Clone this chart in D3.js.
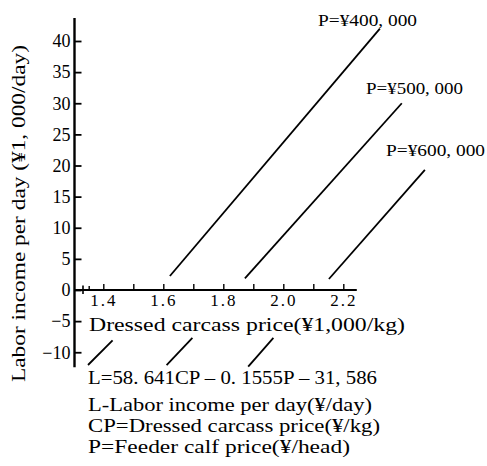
<!DOCTYPE html>
<html>
<head>
<meta charset="utf-8">
<script src="https://cdn.jsdelivr.net/npm/d3@7"></script>
<style>
  html, body { margin: 0; padding: 0; background: #fff; }
  svg { display: block; }
  svg text { font-family: "Liberation Serif", "Times New Roman", serif; fill: #000; font-weight: normal; }
</style>
</head>
<body>
<svg id="chart" width="487" height="466"></svg>
<script>
// ---- data ----
const priceLabels   = ["P=¥400, 000", "P=¥500, 000", "P=¥600, 000"];
// upper segments (above the x axis): start/end in (CP ¥1,000/kg, L ¥1,000/day)
const upperStartCP  = [1.622, 1.872, 2.152];
const upperStartL   = [2.25, 1.88, 1.77];
const upperEndCP    = [2.322, 2.395, 2.472];
const upperEndL     = [42.0, 30.0, 19.3];
// lower segments (below the x-axis title)
const lowerStartCP  = [1.349, 1.611, 1.883];
const lowerStartL   = [-12.05, -12.05, -12.3];
const lowerEndCP    = [1.431, 1.697, 1.967];
const lowerEndL     = [-8.1, -7.7, -7.7];

const xTickValues   = [1.4, 1.5, 1.6, 1.7, 1.8, 1.9, 2.0, 2.1, 2.2];
const xTickLabels   = ["1.4", "", "1.6", "", "1.8", "", "2.0", "", "2.2"];
const xMinorTicks   = [1.353];
const yTickValues   = [40, 35, 30, 25, 20, 15, 10, 5, 0, -5, -10];
const yTickLabels   = ["40", "35", "30", "25", "20", "15", "10", "5", "0", "−5", "−10"];

const xTitle = "Dressed carcass price(¥1,000/kg)";
const yTitle = "Labor income per day (¥1, 000/day)";
const noteLines = [
  "L=58. 641CP \u2013 0. 1555P \u2013 31, 586",
  "L-Labor income per day(¥/day)",
  "CP=Dressed carcass price(¥/kg)",
  "P=Feeder calf price(¥/head)"
];

// ---- drawing ----
const svg = d3.select("#chart");
const x = d3.scaleLinear().domain([1.4, 2.2]).range([103.3, 343.3]);
const y = d3.scaleLinear().domain([0, 40]).range([290, 41]);

// y axis line
svg.append("line")
  .attr("x1", 74.5).attr("x2", 74.5)
  .attr("y1", y(43.7)).attr("y2", y(-12.4))
  .attr("stroke", "#000").attr("stroke-width", 2.4);

// y ticks
const yAxis = d3.axisLeft(y)
  .tickValues(yTickValues)
  .tickFormat((d, i) => yTickLabels[i])
  .tickSizeInner(-7).tickSizeOuter(0).tickPadding(4);
const gy = svg.append("g").attr("transform", "translate(74.5,0)").call(yAxis);
gy.select(".domain").remove();
gy.selectAll(".tick line").attr("stroke", "#000").attr("stroke-width", 1.8);
gy.selectAll(".tick text")
  .attr("font-family", null)
  .attr("font-size", 18).attr("fill", "#000");

// x axis line
svg.append("line")
  .attr("x1", 74.5).attr("x2", x(2.245))
  .attr("y1", y(0)).attr("y2", y(0))
  .attr("stroke", "#000").attr("stroke-width", 1.8);
// short vertical bar at the axis start
svg.append("line")
  .attr("x1", 83).attr("x2", 83)
  .attr("y1", y(0) - 4.5).attr("y2", y(0) + 4)
  .attr("stroke", "#000").attr("stroke-width", 1.6);

const xAxis = d3.axisBottom(x)
  .tickValues(xTickValues)
  .tickFormat((d, i) => xTickLabels[i])
  .tickSizeInner(-6).tickSizeOuter(0).tickPadding(4);
const gx = svg.append("g").attr("transform", `translate(0,${y(0)})`).call(xAxis);
gx.select(".domain").remove();
gx.selectAll(".tick line").attr("stroke", "#000").attr("stroke-width", 1.4);
gx.selectAll(".tick text")
  .attr("font-family", null)
  .attr("font-size", 17).attr("letter-spacing", 2).attr("fill", "#000");

// minor tick
svg.selectAll(".minor").data(xMinorTicks).enter().append("line")
  .attr("x1", d => x(d)).attr("x2", d => x(d))
  .attr("y1", y(0)).attr("y2", y(0) - 4)
  .attr("stroke", "#000").attr("stroke-width", 1.4);

// x title
svg.append("text")
  .attr("x", 89).attr("y", 331)
  .attr("font-size", 18)
  .attr("textLength", 316).attr("lengthAdjust", "spacingAndGlyphs")
  .text(xTitle);

// y title
svg.append("text")
  .attr("transform", "translate(25,382) rotate(-90)")
  .attr("x", 0).attr("y", 0)
  .attr("font-size", 18)
  .attr("textLength", 337).attr("lengthAdjust", "spacingAndGlyphs")
  .text(yTitle);

// lines
const idx = d3.range(priceLabels.length);
const segs = [];
idx.forEach(i => {
  segs.push([[upperStartCP[i], upperStartL[i]], [upperEndCP[i], upperEndL[i]]]);
  segs.push([[lowerStartCP[i], lowerStartL[i]], [lowerEndCP[i], lowerEndL[i]]]);
});
const lineGen = d3.line().x(d => x(d[0])).y(d => y(d[1]));
svg.selectAll(".seg").data(segs).enter().append("path")
  .attr("class", "seg")
  .attr("d", lineGen)
  .attr("fill", "none").attr("stroke", "#000").attr("stroke-width", 1.8);

// line labels
const labelPos = [[318, 26, 99], [366, 94, 97], [386, 156, 99]];
svg.selectAll(".plab").data(priceLabels).enter().append("text")
  .attr("x", (d, i) => labelPos[i][0]).attr("y", (d, i) => labelPos[i][1])
  .attr("font-size", 17)
  .attr("textLength", (d, i) => labelPos[i][2]).attr("lengthAdjust", "spacingAndGlyphs")
  .text(d => d);

// notes
const notePos = [[384, 289], [411, 284], [432, 292], [453, 262]];
svg.selectAll(".note").data(noteLines).enter().append("text")
  .attr("x", 88).attr("y", (d, i) => notePos[i][0])
  .attr("font-size", 18)
  .attr("textLength", (d, i) => notePos[i][1]).attr("lengthAdjust", "spacingAndGlyphs")
  .text(d => d)
  .style("font-weight", (d, i) => "normal");
</script>
</body>
</html>
